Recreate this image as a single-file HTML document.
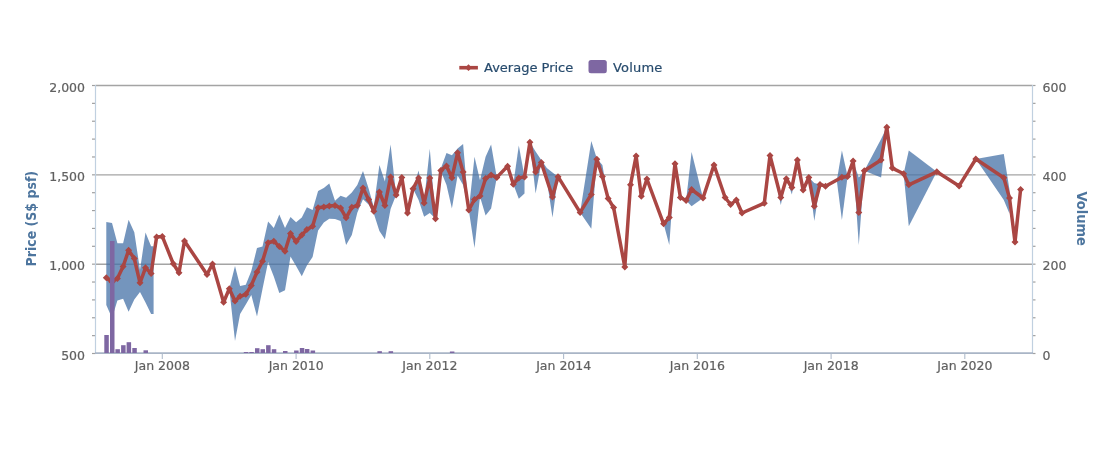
<!DOCTYPE html>
<html lang="en"><head><meta charset="utf-8"><title>Price chart</title>
<style>html,body{margin:0;padding:0;background:#fff}body{width:1120px;height:468px;overflow:hidden}</style></head>
<body>
<svg width="1120" height="468" viewBox="0 0 1120 468" style="display:block;font-family:'DejaVu Sans', 'Liberation Sans', sans-serif">
<rect width="1120" height="468" fill="#fff"/>
<path d="M95.5 85.50H1032.5" stroke="#a4a4a4" stroke-width="1.4" fill="none"/>
<path d="M95.5 174.85H1032.5" stroke="#a4a4a4" stroke-width="1.4" fill="none"/>
<path d="M95.5 264.20H1032.5" stroke="#a4a4a4" stroke-width="1.4" fill="none"/>
<path d="M95.5 85.50h-3.5" stroke="#a0a0a0" stroke-width="1.2" fill="none"/>
<path d="M1032.5 85.50h3" stroke="#a0a0a0" stroke-width="1.2" fill="none"/>
<path d="M95.5 103.37h-3.5" stroke="#a0a0a0" stroke-width="1.2" fill="none"/>
<path d="M1032.5 103.37h3" stroke="#a0a0a0" stroke-width="1.2" fill="none"/>
<path d="M95.5 121.23h-3.5" stroke="#a0a0a0" stroke-width="1.2" fill="none"/>
<path d="M1032.5 121.23h3" stroke="#a0a0a0" stroke-width="1.2" fill="none"/>
<path d="M95.5 139.10h-3.5" stroke="#a0a0a0" stroke-width="1.2" fill="none"/>
<path d="M1032.5 139.10h3" stroke="#a0a0a0" stroke-width="1.2" fill="none"/>
<path d="M95.5 156.97h-3.5" stroke="#a0a0a0" stroke-width="1.2" fill="none"/>
<path d="M1032.5 156.97h3" stroke="#a0a0a0" stroke-width="1.2" fill="none"/>
<path d="M95.5 174.83h-3.5" stroke="#a0a0a0" stroke-width="1.2" fill="none"/>
<path d="M1032.5 174.83h3" stroke="#a0a0a0" stroke-width="1.2" fill="none"/>
<path d="M95.5 192.70h-3.5" stroke="#a0a0a0" stroke-width="1.2" fill="none"/>
<path d="M1032.5 192.70h3" stroke="#a0a0a0" stroke-width="1.2" fill="none"/>
<path d="M95.5 210.57h-3.5" stroke="#a0a0a0" stroke-width="1.2" fill="none"/>
<path d="M1032.5 210.57h3" stroke="#a0a0a0" stroke-width="1.2" fill="none"/>
<path d="M95.5 228.43h-3.5" stroke="#a0a0a0" stroke-width="1.2" fill="none"/>
<path d="M1032.5 228.43h3" stroke="#a0a0a0" stroke-width="1.2" fill="none"/>
<path d="M95.5 246.30h-3.5" stroke="#a0a0a0" stroke-width="1.2" fill="none"/>
<path d="M1032.5 246.30h3" stroke="#a0a0a0" stroke-width="1.2" fill="none"/>
<path d="M95.5 264.17h-3.5" stroke="#a0a0a0" stroke-width="1.2" fill="none"/>
<path d="M1032.5 264.17h3" stroke="#a0a0a0" stroke-width="1.2" fill="none"/>
<path d="M95.5 282.03h-3.5" stroke="#a0a0a0" stroke-width="1.2" fill="none"/>
<path d="M1032.5 282.03h3" stroke="#a0a0a0" stroke-width="1.2" fill="none"/>
<path d="M95.5 299.90h-3.5" stroke="#a0a0a0" stroke-width="1.2" fill="none"/>
<path d="M1032.5 299.90h3" stroke="#a0a0a0" stroke-width="1.2" fill="none"/>
<path d="M95.5 317.77h-3.5" stroke="#a0a0a0" stroke-width="1.2" fill="none"/>
<path d="M1032.5 317.77h3" stroke="#a0a0a0" stroke-width="1.2" fill="none"/>
<path d="M95.5 335.63h-3.5" stroke="#a0a0a0" stroke-width="1.2" fill="none"/>
<path d="M1032.5 335.63h3" stroke="#a0a0a0" stroke-width="1.2" fill="none"/>
<path d="M95.5 353.50h-3.5" stroke="#a0a0a0" stroke-width="1.2" fill="none"/>
<path d="M1032.5 353.50h3" stroke="#a0a0a0" stroke-width="1.2" fill="none"/>
<g fill="#4572A7" fill-opacity="0.75" stroke="none">
<path d="M106.3 222.0 L112.0 223.0 L117.4 243.3 L123.1 243.3 L128.6 219.7 L134.3 232.3 L140.0 270.0 L145.5 232.6 L151.1 246.3 L153.6 246.3 L153.6 314.0 L151.1 314.0 L145.5 302.6 L140.0 292.0 L134.3 299.6 L128.6 311.7 L123.1 298.8 L117.4 300.4 L112.0 318.0 L106.3 305.0Z"/>
<path d="M229.3 288.8 L235.0 266.0 L240.1 286.0 L245.8 284.7 L251.3 271.0 L257.0 248.0 L262.5 246.4 L268.1 221.5 L273.8 228.0 L279.3 214.4 L285.0 228.0 L290.5 217.1 L296.1 222.3 L301.8 217.4 L306.9 207.3 L312.6 209.9 L318.1 191.0 L323.8 188.0 L329.3 183.5 L335.0 200.8 L340.6 195.8 L346.1 197.8 L351.8 192.5 L357.3 185.0 L363.0 171.0 L368.6 188.5 L373.8 207.0 L379.4 165.0 L384.9 181.5 L390.6 144.5 L396.1 195.0 L396.1 195.0 L390.6 209.0 L384.9 239.3 L379.4 231.0 L373.8 213.5 L368.6 204.5 L363.0 199.2 L357.3 212.8 L351.8 235.0 L346.1 245.0 L340.6 221.0 L335.0 219.0 L329.3 218.8 L323.8 222.5 L318.1 230.5 L312.6 257.0 L306.9 265.5 L301.8 276.2 L296.1 266.0 L290.5 256.5 L285.0 290.3 L279.3 293.0 L273.8 276.5 L268.1 262.0 L262.5 289.0 L257.0 316.5 L251.3 295.0 L245.8 304.5 L240.1 314.0 L235.0 341.0 L229.3 288.8Z"/>
<path d="M413.0 188.7 L418.6 170.5 L424.1 201.0 L429.8 148.7 L435.5 218.8 L440.8 168.5 L446.5 153.0 L451.9 155.2 L457.6 148.5 L463.1 144.0 L468.8 210.0 L474.5 156.8 L480.0 180.3 L485.6 156.8 L491.1 144.6 L496.8 177.4 L496.8 177.4 L491.1 208.5 L485.6 215.5 L480.0 196.7 L474.5 248.0 L468.8 210.0 L463.1 185.0 L457.6 175.6 L451.9 208.5 L446.5 185.0 L440.8 171.0 L435.5 218.8 L429.8 213.0 L424.1 216.7 L418.6 200.0 L413.0 188.7Z"/>
<path d="M513.3 184.2 L518.8 145.5 L524.5 176.7 L524.5 193.5 L518.8 198.8 L513.3 184.2Z"/>
<path d="M529.9 142.2 L535.6 151.5 L541.3 160.0 L546.8 168.0 L552.5 172.5 L558.0 176.7 L558.0 176.7 L552.5 217.5 L546.8 180.0 L541.3 163.0 L535.6 193.5 L529.9 142.2Z"/>
<path d="M580.1 212.4 L591.3 141.0 L596.8 158.5 L602.4 165.0 L608.1 198.4 L608.1 198.4 L602.4 176.5 L596.8 160.0 L591.3 228.8 L580.1 212.4Z"/>
<path d="M663.6 223.8 L669.3 217.5 L675.0 163.8 L675.0 163.8 L669.3 245.0 L663.6 223.8Z"/>
<path d="M686.1 200.5 L691.6 152.0 L703.0 198.0 L703.0 198.0 L691.6 206.2 L686.1 200.5Z"/>
<path d="M770.0 155.5 L780.8 197.5 L786.3 178.8 L791.9 187.5 L797.4 160.0 L797.4 160.0 L791.9 194.5 L786.3 178.8 L780.8 205.0 L770.0 155.5Z"/>
<path d="M808.8 177.5 L814.3 183.0 L820.0 184.5 L820.0 184.5 L814.3 221.0 L808.8 177.5Z"/>
<path d="M836.8 180.4 L841.9 150.5 L847.6 176.6 L847.6 176.6 L841.9 220.0 L836.8 180.4Z"/>
<path d="M853.1 161.0 L858.8 177.5 L864.3 170.8 L881.1 139.0 L886.8 127.3 L886.8 127.3 L881.1 177.5 L864.3 170.8 L858.8 245.0 L853.1 161.0Z"/>
<path d="M903.6 173.8 L908.8 150.5 L936.8 171.8 L936.8 171.8 L908.8 226.3 L903.6 173.8Z"/>
<path d="M975.8 159.0 L1003.8 153.9 L1009.5 189.8 L1009.5 213.7 L1003.8 200.0 L975.8 159.0Z"/>
</g>
<path d="M95.5 85.0V353.5" stroke="#C0D0E0" stroke-width="1.2" fill="none"/>
<path d="M1032.5 85.0V353.5" stroke="#C0D0E0" stroke-width="1.2" fill="none"/>
<path d="M95.0 353.2H1033.0" stroke="#a9b5c6" stroke-width="1.7" fill="none"/>
<path d="M162.3 353.5v5.5" stroke="#b0bccc" stroke-width="1.1" fill="none"/>
<text x="162.4" y="369.8" text-anchor="middle" font-size="12.5" fill="#606060" stroke="#606060" stroke-width="0.2">Jan 2008</text>
<path d="M296.1 353.5v5.5" stroke="#b0bccc" stroke-width="1.1" fill="none"/>
<text x="296.2" y="369.8" text-anchor="middle" font-size="12.5" fill="#606060" stroke="#606060" stroke-width="0.2">Jan 2010</text>
<path d="M429.8 353.5v5.5" stroke="#b0bccc" stroke-width="1.1" fill="none"/>
<text x="429.9" y="369.8" text-anchor="middle" font-size="12.5" fill="#606060" stroke="#606060" stroke-width="0.2">Jan 2012</text>
<path d="M563.6 353.5v5.5" stroke="#b0bccc" stroke-width="1.1" fill="none"/>
<text x="563.7" y="369.8" text-anchor="middle" font-size="12.5" fill="#606060" stroke="#606060" stroke-width="0.2">Jan 2014</text>
<path d="M697.3 353.5v5.5" stroke="#b0bccc" stroke-width="1.1" fill="none"/>
<text x="697.4" y="369.8" text-anchor="middle" font-size="12.5" fill="#606060" stroke="#606060" stroke-width="0.2">Jan 2016</text>
<path d="M831.1 353.5v5.5" stroke="#b0bccc" stroke-width="1.1" fill="none"/>
<text x="831.2" y="369.8" text-anchor="middle" font-size="12.5" fill="#606060" stroke="#606060" stroke-width="0.2">Jan 2018</text>
<path d="M964.8 353.5v5.5" stroke="#b0bccc" stroke-width="1.1" fill="none"/>
<text x="964.9" y="369.8" text-anchor="middle" font-size="12.5" fill="#606060" stroke="#606060" stroke-width="0.2">Jan 2020</text>
<text x="85" y="91.7" text-anchor="end" font-size="12.5" fill="#606060" stroke="#606060" stroke-width="0.2">2,000</text>
<text x="85" y="181.0" text-anchor="end" font-size="12.5" fill="#606060" stroke="#606060" stroke-width="0.2">1,500</text>
<text x="85" y="270.4" text-anchor="end" font-size="12.5" fill="#606060" stroke="#606060" stroke-width="0.2">1,000</text>
<text x="85" y="359.7" text-anchor="end" font-size="12.5" fill="#606060" stroke="#606060" stroke-width="0.2">500</text>
<text x="1042.6" y="91.7" text-anchor="start" font-size="12.5" fill="#606060" stroke="#606060" stroke-width="0.2">600</text>
<text x="1042.6" y="181.0" text-anchor="start" font-size="12.5" fill="#606060" stroke="#606060" stroke-width="0.2">400</text>
<text x="1042.6" y="270.4" text-anchor="start" font-size="12.5" fill="#606060" stroke="#606060" stroke-width="0.2">200</text>
<text x="1042.6" y="359.7" text-anchor="start" font-size="12.5" fill="#606060" stroke="#606060" stroke-width="0.2">0</text>
<text transform="translate(35.6 266.4) rotate(-90)" textLength="95.5" lengthAdjust="spacingAndGlyphs" font-size="13.5" font-weight="bold" fill="#4d759e">Price (S$ psf)</text>
<text transform="translate(1077.2 191.4) rotate(90)" textLength="54.5" lengthAdjust="spacingAndGlyphs" font-size="14" font-weight="bold" fill="#4d759e">Volume</text>
<path d="M106.3 277.8 L112.0 282.0 L117.4 278.4 L123.1 266.5 L128.6 250.3 L134.3 258.5 L140.0 282.8 L145.5 267.8 L151.1 273.4 L156.6 237.0 L162.3 236.4 L173.3 263.8 L179.0 272.8 L184.5 241.0 L207.0 274.5 L212.5 263.9 L223.6 302.3 L229.3 288.8 L235.0 301.1 L240.1 296.3 L245.8 294.3 L251.3 285.4 L257.0 272.0 L262.5 261.2 L268.1 242.7 L273.8 241.2 L279.3 246.5 L285.0 251.2 L290.5 233.5 L296.1 241.6 L301.8 235.0 L306.9 229.6 L312.6 226.2 L318.1 207.7 L323.8 207.0 L329.3 206.1 L335.0 205.4 L340.6 208.0 L346.1 217.8 L351.8 207.3 L357.3 205.4 L363.0 188.0 L368.6 199.6 L373.8 211.2 L379.4 192.0 L384.9 205.5 L390.6 177.1 L396.1 195.0 L401.8 177.4 L407.5 213.0 L413.0 188.7 L418.6 178.1 L424.1 203.0 L429.8 178.1 L435.5 218.8 L440.8 170.4 L446.5 165.9 L451.9 177.7 L457.6 152.8 L463.1 172.0 L468.8 210.0 L474.5 199.5 L480.0 196.0 L485.6 178.5 L491.1 174.9 L496.8 177.4 L507.6 166.3 L513.3 184.2 L518.8 177.9 L524.5 176.9 L529.9 142.2 L535.6 172.1 L541.3 162.6 L552.5 197.0 L558.0 176.7 L580.1 212.4 L591.3 194.4 L596.8 159.3 L602.4 176.5 L608.1 198.4 L613.6 207.6 L624.8 267.0 L630.5 184.7 L636.1 156.1 L641.3 196.2 L646.9 179.0 L663.6 223.8 L669.3 217.5 L675.0 163.8 L680.4 197.5 L686.1 200.5 L691.6 189.5 L703.0 198.0 L714.0 165.0 L725.1 197.5 L730.6 204.5 L736.3 200.0 L742.0 213.0 L764.3 203.2 L770.0 155.5 L780.8 197.5 L786.3 178.8 L791.9 187.5 L797.4 160.0 L803.1 190.0 L808.8 177.5 L814.3 206.2 L820.0 184.5 L825.5 186.2 L841.9 177.3 L847.6 176.6 L853.1 161.0 L858.8 212.4 L864.3 170.8 L881.1 160.0 L886.8 127.3 L892.3 168.1 L903.6 173.8 L908.8 184.8 L936.8 171.8 L959.1 185.9 L975.8 159.0 L1003.8 177.8 L1009.5 197.9 L1015.0 242.1 L1020.6 189.4" fill="none" stroke="#AA4643" stroke-width="3.5" stroke-linejoin="round" stroke-linecap="round"/>
<path d="M106.3 274.3l3.5 3.5l-3.5 3.5l-3.5 -3.5zM112.0 278.5l3.5 3.5l-3.5 3.5l-3.5 -3.5zM117.4 274.9l3.5 3.5l-3.5 3.5l-3.5 -3.5zM123.1 263.0l3.5 3.5l-3.5 3.5l-3.5 -3.5zM128.6 246.8l3.5 3.5l-3.5 3.5l-3.5 -3.5zM134.3 255.0l3.5 3.5l-3.5 3.5l-3.5 -3.5zM140.0 279.3l3.5 3.5l-3.5 3.5l-3.5 -3.5zM145.5 264.3l3.5 3.5l-3.5 3.5l-3.5 -3.5zM151.1 269.9l3.5 3.5l-3.5 3.5l-3.5 -3.5zM156.6 233.5l3.5 3.5l-3.5 3.5l-3.5 -3.5zM162.3 232.9l3.5 3.5l-3.5 3.5l-3.5 -3.5zM173.3 260.2l3.5 3.5l-3.5 3.5l-3.5 -3.5zM179.0 269.3l3.5 3.5l-3.5 3.5l-3.5 -3.5zM184.5 237.5l3.5 3.5l-3.5 3.5l-3.5 -3.5zM207.0 271.0l3.5 3.5l-3.5 3.5l-3.5 -3.5zM212.5 260.4l3.5 3.5l-3.5 3.5l-3.5 -3.5zM223.6 298.8l3.5 3.5l-3.5 3.5l-3.5 -3.5zM229.3 285.3l3.5 3.5l-3.5 3.5l-3.5 -3.5zM235.0 297.6l3.5 3.5l-3.5 3.5l-3.5 -3.5zM240.1 292.8l3.5 3.5l-3.5 3.5l-3.5 -3.5zM245.8 290.8l3.5 3.5l-3.5 3.5l-3.5 -3.5zM251.3 281.9l3.5 3.5l-3.5 3.5l-3.5 -3.5zM257.0 268.5l3.5 3.5l-3.5 3.5l-3.5 -3.5zM262.5 257.8l3.5 3.5l-3.5 3.5l-3.5 -3.5zM268.1 239.2l3.5 3.5l-3.5 3.5l-3.5 -3.5zM273.8 237.8l3.5 3.5l-3.5 3.5l-3.5 -3.5zM279.3 243.0l3.5 3.5l-3.5 3.5l-3.5 -3.5zM285.0 247.7l3.5 3.5l-3.5 3.5l-3.5 -3.5zM290.5 230.0l3.5 3.5l-3.5 3.5l-3.5 -3.5zM296.1 238.1l3.5 3.5l-3.5 3.5l-3.5 -3.5zM301.8 231.5l3.5 3.5l-3.5 3.5l-3.5 -3.5zM306.9 226.1l3.5 3.5l-3.5 3.5l-3.5 -3.5zM312.6 222.8l3.5 3.5l-3.5 3.5l-3.5 -3.5zM318.1 204.2l3.5 3.5l-3.5 3.5l-3.5 -3.5zM323.8 203.5l3.5 3.5l-3.5 3.5l-3.5 -3.5zM329.3 202.6l3.5 3.5l-3.5 3.5l-3.5 -3.5zM335.0 201.9l3.5 3.5l-3.5 3.5l-3.5 -3.5zM340.6 204.5l3.5 3.5l-3.5 3.5l-3.5 -3.5zM346.1 214.3l3.5 3.5l-3.5 3.5l-3.5 -3.5zM351.8 203.8l3.5 3.5l-3.5 3.5l-3.5 -3.5zM357.3 201.9l3.5 3.5l-3.5 3.5l-3.5 -3.5zM363.0 184.5l3.5 3.5l-3.5 3.5l-3.5 -3.5zM368.6 196.1l3.5 3.5l-3.5 3.5l-3.5 -3.5zM373.8 207.8l3.5 3.5l-3.5 3.5l-3.5 -3.5zM379.4 188.5l3.5 3.5l-3.5 3.5l-3.5 -3.5zM384.9 202.0l3.5 3.5l-3.5 3.5l-3.5 -3.5zM390.6 173.6l3.5 3.5l-3.5 3.5l-3.5 -3.5zM396.1 191.5l3.5 3.5l-3.5 3.5l-3.5 -3.5zM401.8 173.9l3.5 3.5l-3.5 3.5l-3.5 -3.5zM407.5 209.5l3.5 3.5l-3.5 3.5l-3.5 -3.5zM413.0 185.2l3.5 3.5l-3.5 3.5l-3.5 -3.5zM418.6 174.6l3.5 3.5l-3.5 3.5l-3.5 -3.5zM424.1 199.5l3.5 3.5l-3.5 3.5l-3.5 -3.5zM429.8 174.6l3.5 3.5l-3.5 3.5l-3.5 -3.5zM435.5 215.2l3.5 3.5l-3.5 3.5l-3.5 -3.5zM440.8 166.9l3.5 3.5l-3.5 3.5l-3.5 -3.5zM446.5 162.4l3.5 3.5l-3.5 3.5l-3.5 -3.5zM451.9 174.2l3.5 3.5l-3.5 3.5l-3.5 -3.5zM457.6 149.3l3.5 3.5l-3.5 3.5l-3.5 -3.5zM463.1 168.5l3.5 3.5l-3.5 3.5l-3.5 -3.5zM468.8 206.5l3.5 3.5l-3.5 3.5l-3.5 -3.5zM474.5 196.0l3.5 3.5l-3.5 3.5l-3.5 -3.5zM480.0 192.5l3.5 3.5l-3.5 3.5l-3.5 -3.5zM485.6 175.0l3.5 3.5l-3.5 3.5l-3.5 -3.5zM491.1 171.4l3.5 3.5l-3.5 3.5l-3.5 -3.5zM496.8 173.9l3.5 3.5l-3.5 3.5l-3.5 -3.5zM507.6 162.8l3.5 3.5l-3.5 3.5l-3.5 -3.5zM513.3 180.7l3.5 3.5l-3.5 3.5l-3.5 -3.5zM518.8 174.4l3.5 3.5l-3.5 3.5l-3.5 -3.5zM524.5 173.4l3.5 3.5l-3.5 3.5l-3.5 -3.5zM529.9 138.7l3.5 3.5l-3.5 3.5l-3.5 -3.5zM535.6 168.6l3.5 3.5l-3.5 3.5l-3.5 -3.5zM541.3 159.1l3.5 3.5l-3.5 3.5l-3.5 -3.5zM552.5 193.5l3.5 3.5l-3.5 3.5l-3.5 -3.5zM558.0 173.2l3.5 3.5l-3.5 3.5l-3.5 -3.5zM580.1 208.9l3.5 3.5l-3.5 3.5l-3.5 -3.5zM591.3 190.9l3.5 3.5l-3.5 3.5l-3.5 -3.5zM596.8 155.8l3.5 3.5l-3.5 3.5l-3.5 -3.5zM602.4 173.0l3.5 3.5l-3.5 3.5l-3.5 -3.5zM608.1 194.9l3.5 3.5l-3.5 3.5l-3.5 -3.5zM613.6 204.1l3.5 3.5l-3.5 3.5l-3.5 -3.5zM624.8 263.5l3.5 3.5l-3.5 3.5l-3.5 -3.5zM630.5 181.2l3.5 3.5l-3.5 3.5l-3.5 -3.5zM636.1 152.6l3.5 3.5l-3.5 3.5l-3.5 -3.5zM641.3 192.7l3.5 3.5l-3.5 3.5l-3.5 -3.5zM646.9 175.5l3.5 3.5l-3.5 3.5l-3.5 -3.5zM663.6 220.2l3.5 3.5l-3.5 3.5l-3.5 -3.5zM669.3 214.0l3.5 3.5l-3.5 3.5l-3.5 -3.5zM675.0 160.2l3.5 3.5l-3.5 3.5l-3.5 -3.5zM680.4 194.0l3.5 3.5l-3.5 3.5l-3.5 -3.5zM686.1 197.0l3.5 3.5l-3.5 3.5l-3.5 -3.5zM691.6 186.0l3.5 3.5l-3.5 3.5l-3.5 -3.5zM703.0 194.5l3.5 3.5l-3.5 3.5l-3.5 -3.5zM714.0 161.5l3.5 3.5l-3.5 3.5l-3.5 -3.5zM725.1 194.0l3.5 3.5l-3.5 3.5l-3.5 -3.5zM730.6 201.0l3.5 3.5l-3.5 3.5l-3.5 -3.5zM736.3 196.5l3.5 3.5l-3.5 3.5l-3.5 -3.5zM742.0 209.5l3.5 3.5l-3.5 3.5l-3.5 -3.5zM764.3 199.8l3.5 3.5l-3.5 3.5l-3.5 -3.5zM770.0 152.0l3.5 3.5l-3.5 3.5l-3.5 -3.5zM780.8 194.0l3.5 3.5l-3.5 3.5l-3.5 -3.5zM786.3 175.2l3.5 3.5l-3.5 3.5l-3.5 -3.5zM791.9 184.0l3.5 3.5l-3.5 3.5l-3.5 -3.5zM797.4 156.5l3.5 3.5l-3.5 3.5l-3.5 -3.5zM803.1 186.5l3.5 3.5l-3.5 3.5l-3.5 -3.5zM808.8 174.0l3.5 3.5l-3.5 3.5l-3.5 -3.5zM814.3 202.8l3.5 3.5l-3.5 3.5l-3.5 -3.5zM820.0 181.0l3.5 3.5l-3.5 3.5l-3.5 -3.5zM825.5 182.8l3.5 3.5l-3.5 3.5l-3.5 -3.5zM841.9 173.8l3.5 3.5l-3.5 3.5l-3.5 -3.5zM847.6 173.1l3.5 3.5l-3.5 3.5l-3.5 -3.5zM853.1 157.5l3.5 3.5l-3.5 3.5l-3.5 -3.5zM858.8 208.9l3.5 3.5l-3.5 3.5l-3.5 -3.5zM864.3 167.3l3.5 3.5l-3.5 3.5l-3.5 -3.5zM881.1 156.5l3.5 3.5l-3.5 3.5l-3.5 -3.5zM886.8 123.8l3.5 3.5l-3.5 3.5l-3.5 -3.5zM892.3 164.6l3.5 3.5l-3.5 3.5l-3.5 -3.5zM903.6 170.3l3.5 3.5l-3.5 3.5l-3.5 -3.5zM908.8 181.3l3.5 3.5l-3.5 3.5l-3.5 -3.5zM936.8 168.3l3.5 3.5l-3.5 3.5l-3.5 -3.5zM959.1 182.4l3.5 3.5l-3.5 3.5l-3.5 -3.5zM975.8 155.5l3.5 3.5l-3.5 3.5l-3.5 -3.5zM1003.8 174.3l3.5 3.5l-3.5 3.5l-3.5 -3.5zM1009.5 194.4l3.5 3.5l-3.5 3.5l-3.5 -3.5zM1015.0 238.6l3.5 3.5l-3.5 3.5l-3.5 -3.5zM1020.6 185.9l3.5 3.5l-3.5 3.5l-3.5 -3.5z" fill="#AA4643"/>
<g fill="#7E67A2">
<rect x="104.3" y="335.0" width="4.5" height="18.0"/>
<rect x="110.0" y="241.0" width="4.5" height="112.0"/>
<rect x="115.4" y="349.2" width="4.5" height="3.8"/>
<rect x="121.1" y="345.2" width="4.5" height="7.8"/>
<rect x="126.6" y="342.2" width="4.5" height="10.8"/>
<rect x="132.3" y="348.0" width="4.5" height="5.0"/>
<rect x="143.5" y="350.3" width="4.5" height="2.7"/>
<rect x="243.8" y="352.0" width="4.5" height="1.0"/>
<rect x="249.3" y="352.0" width="4.5" height="1.0"/>
<rect x="255.0" y="348.2" width="4.5" height="4.8"/>
<rect x="260.5" y="349.2" width="4.5" height="3.8"/>
<rect x="266.1" y="345.2" width="4.5" height="7.8"/>
<rect x="271.8" y="349.2" width="4.5" height="3.8"/>
<rect x="283.0" y="351.0" width="4.5" height="2.0"/>
<rect x="294.1" y="350.5" width="4.5" height="2.5"/>
<rect x="299.8" y="348.0" width="4.5" height="5.0"/>
<rect x="304.9" y="349.0" width="4.5" height="4.0"/>
<rect x="310.6" y="350.5" width="4.5" height="2.5"/>
<rect x="377.4" y="351.2" width="4.5" height="1.8"/>
<rect x="388.6" y="351.2" width="4.5" height="1.8"/>
<rect x="449.9" y="351.5" width="4.5" height="1.5"/>
</g>
<path d="M459.3 67.7H477.9" stroke="#AA4643" stroke-width="3.6" fill="none"/>
<path d="M468.5 64.3l3.4 3.4l-3.4 3.4l-3.4 -3.4z" fill="#AA4643"/>
<text x="484" y="72" font-size="13" fill="#274b6d" stroke="#274b6d" stroke-width="0.2">Average Price</text>
<rect x="588.5" y="60" width="18.3" height="13.3" rx="2.5" fill="#7E67A2"/>
<text x="613" y="72" font-size="13" letter-spacing="0.2" fill="#274b6d" stroke="#274b6d" stroke-width="0.2">Volume</text>
</svg>
</body></html>
